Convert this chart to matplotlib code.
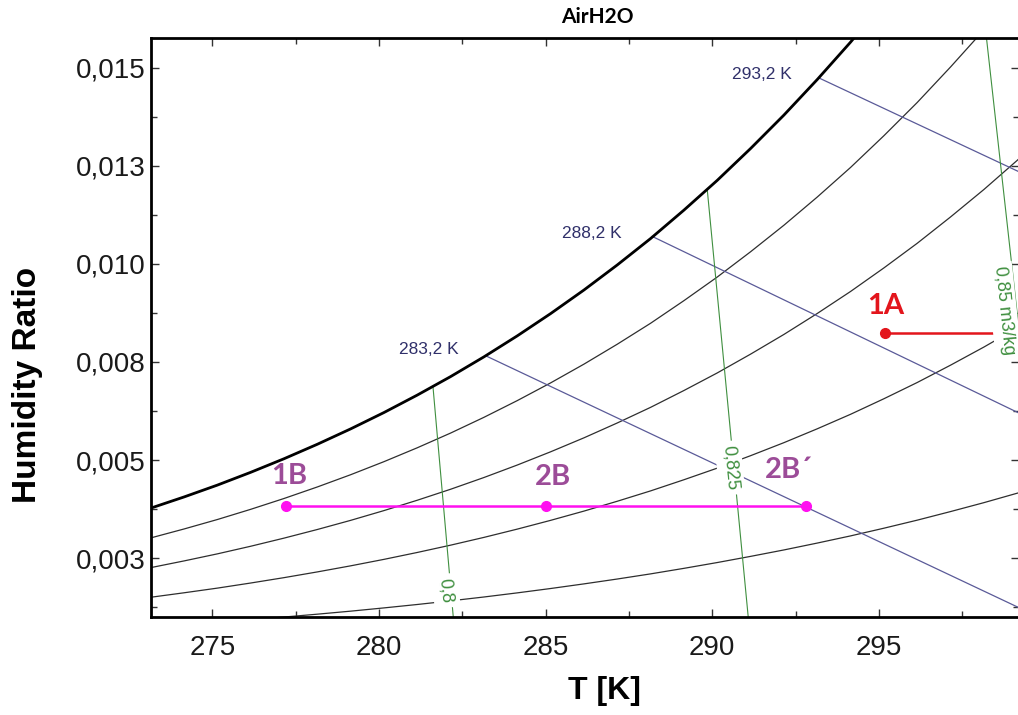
import matplotlib
matplotlib.use("Agg")
import matplotlib.pyplot as plt
from matplotlib.ticker import MultipleLocator

# dry-bulb temperature grid [K] for the saturation / relative humidity curves
t_grid = [273.15, 274.15, 275.15, 276.15, 277.15, 278.15, 279.15, 280.15, 281.15, 282.15,
          283.15, 284.15, 285.15, 286.15, 287.15, 288.15, 289.15, 290.15, 291.15, 292.15,
          293.15, 294.15, 295.15, 296.15, 297.15, 298.15, 299.15, 300.15, 301.15]
w_sat = [0.003775, 0.004060, 0.004362, 0.004688, 0.005034, 0.005403, 0.005795, 0.006212,
         0.006657, 0.007128, 0.007631, 0.008166, 0.008733, 0.009334, 0.009973, 0.010646,
         0.011370, 0.012129, 0.012940, 0.013792, 0.014698, 0.015651, 0.016672, 0.017742,
         0.018887, 0.020081, 0.021353, 0.022695, 0.024117]
w_rh80 = [0.003016, 0.003244, 0.003485, 0.003745, 0.004021, 0.004315, 0.004627, 0.004960,
          0.005314, 0.005689, 0.006090, 0.006516, 0.006967, 0.007445, 0.007953, 0.008487,
          0.009063, 0.009665, 0.010309, 0.010985, 0.011703, 0.012458, 0.013266, 0.014113,
          0.015018, 0.015962, 0.016966, 0.018025, 0.019145]
w_rh60 = [0.002259, 0.002430, 0.002610, 0.002804, 0.003011, 0.003231, 0.003464, 0.003713,
          0.003977, 0.004257, 0.004556, 0.004874, 0.005211, 0.005567, 0.005946, 0.006344,
          0.006773, 0.007221, 0.007700, 0.008202, 0.008736, 0.009297, 0.009897, 0.010525,
          0.011196, 0.011895, 0.012638, 0.013421, 0.014249]
w_rh40 = [0.001504, 0.001618, 0.001737, 0.001867, 0.002004, 0.002150, 0.002305, 0.002470,
          0.002646, 0.002832, 0.003030, 0.003241, 0.003464, 0.003700, 0.003951, 0.004215,
          0.004499, 0.004795, 0.005112, 0.005444, 0.005797, 0.006167, 0.006563, 0.006977,
          0.007419, 0.007880, 0.008369, 0.008884, 0.009427]
w_rh20 = [0.000751, 0.000808, 0.000868, 0.000932, 0.001000, 0.001073, 0.001150, 0.001233,
          0.001320, 0.001413, 0.001511, 0.001616, 0.001727, 0.001845, 0.001969, 0.002100,
          0.002241, 0.002389, 0.002546, 0.002710, 0.002885, 0.003068, 0.003264, 0.003469,
          0.003688, 0.003915, 0.004156, 0.004410, 0.004678]

# wet-bulb lines (start on saturation, end past the right border)
wb_labels = ["283,2 K", "288,2 K", "293,2 K"]
wb_t = [[283.2, 299.2], [288.2, 299.2], [293.2, 299.2]]
wb_w = [[0.00766, 0.00124], [0.01070, 0.00620], [0.01474, 0.01235]]

# specific volume lines
sv_labels = ["0,8", "0,825", "0,85 m3/kg"]
sv_t = [[281.62, 282.23], [289.85, 291.08], [298.21, 299.64]]
sv_w = [[0.00688, 0.00100], [0.01190, 0.00100], [0.01590, 0.00500]]

# process B (heating) and process A
b_labels = ["1B", "2B", "2B´"]
b_t = [277.2, 285.0, 292.8]
b_w = [0.00384, 0.00384, 0.00384]
a_labels = ["1A"]
a_t = [295.18, 299.6]
a_w = [0.00825, 0.00825]

x_ticks = [275, 280, 285, 290, 295]
y_ticks = [0.0025, 0.005, 0.0075, 0.010, 0.0125, 0.015]
y_tick_labels = ["0,003", "0,005", "0,008", "0,010", "0,013", "0,015"]

SANS = "Liberation Sans"
BLUE = "#5a5a98"
GREEN = "#3f8f3f"
MAGENTA = "#ff10f0"
PURPLE = "#9c4c98"
RED = "#e3151c"

fig = plt.figure(figsize=(10.18, 7.15), dpi=100)
ax = fig.add_axes([0.148, 0.137, 0.8525, 0.81])

ax.plot(t_grid, w_sat, color="black", lw=2.0, zorder=3)
for w in (w_rh80, w_rh60, w_rh40, w_rh20):
    ax.plot(t_grid, w, color="#2e2e2e", lw=0.9, zorder=2)

for t, w in zip(wb_t, wb_w):
    ax.plot(t, w, color=BLUE, lw=0.9, zorder=2)

for t, w in zip(sv_t, sv_w):
    ax.plot(t, w, color=GREEN, lw=0.8, zorder=2)

# wet-bulb labels, left of the saturation start point
wb_text_pos = [(281.50, 0.007706), (286.38, 0.010655), (291.48, 0.014707)]
for lab, (x, y) in zip(wb_labels, wb_text_pos):
    ax.text(x, y, lab, ha="center", va="baseline", fontsize=12.5,
            family=SANS, color="#30306a", zorder=6)

# specific volume labels sit on the lines and blank them out
sv_text_pos = [(282.01, 0.00167, -84.0), (290.53, 0.00480, -84.6), (298.75, 0.00880, -84.0)]
for lab, (x, y, rot) in zip(sv_labels, sv_text_pos):
    ax.text(x, y, lab, ha="center", va="center", rotation=rot, rotation_mode="anchor",
            fontsize=13, family=SANS, color=GREEN, zorder=6,
            bbox=dict(boxstyle="square,pad=0.25", fc="white", ec="none"))

ax.plot(b_t, b_w, color=MAGENTA, lw=1.8, marker="o", ms=7, zorder=5)
ax.plot(a_t, a_w, color=RED, lw=1.8, marker="o", ms=7, markevery=[0], zorder=5)

b_text_pos = [(277.30, 0.004394), (285.22, 0.004368), (292.29, 0.004546)]
for lab, (x, y) in zip(b_labels, b_text_pos):
    ax.text(x, y, lab, ha="center", va="baseline", fontsize=21,
            family="Lato", weight="bold", color=PURPLE, zorder=7)
ax.text(295.21, 0.008728, a_labels[0], ha="center", va="baseline", fontsize=21,
        family="Lato", weight="bold", color=RED, zorder=7)

ax.set_xlim(273.15, 299.19)
ax.set_ylim(0.001, 0.01576)
ax.set_xticks(x_ticks)
ax.set_yticks(y_ticks, y_tick_labels)
ax.xaxis.set_minor_locator(MultipleLocator(2.5))
ax.yaxis.set_minor_locator(MultipleLocator(0.00125))
ax.tick_params(which="both", direction="in", top=True, right=True, color="#333333", width=1)
ax.tick_params(which="major", length=6)
ax.tick_params(which="minor", length=4)
ax.tick_params(axis="x", pad=13)
ax.tick_params(axis="y", pad=3.5)
for lbl in ax.get_xticklabels() + ax.get_yticklabels():
    lbl.set_fontfamily(SANS)
    lbl.set_fontsize(20)
    lbl.set_color("#1a1a1a")
for side in ("left", "top", "bottom", "right"):
    ax.spines[side].set_linewidth(2.0)

fig.text(597 / 1018, 1 - 17 / 715, "AirH2O", ha="center", va="center",
         family="Lato", weight="bold", fontsize=15)
fig.text(604 / 1018, 1 - 691 / 715, "T [K]", ha="center", va="center",
         family=SANS, weight="bold", fontsize=23)
fig.text(28 / 1018, 1 - 385 / 715, "Humidity Ratio", ha="center", va="center",
         rotation=90, family=SANS, weight="bold", fontsize=24)

fig.savefig("out.png", dpi=100)
